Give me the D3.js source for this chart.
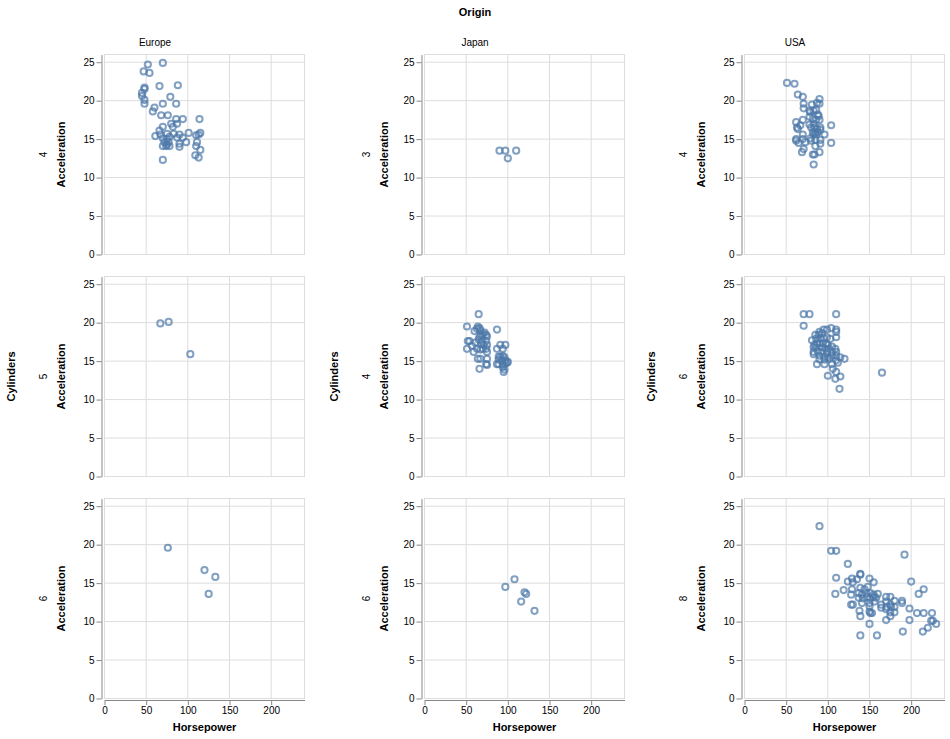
<!DOCTYPE html>
<html>
<head>
<meta charset="utf-8">
<script src="https://cdn.jsdelivr.net/npm/d3@7"></script>
<style>
  body { margin: 0; background: #fff; }
  svg { font-family: "Liberation Sans", Arial, Helvetica, sans-serif; }
</style>
</head>
<body>
<svg id="chart" width="950" height="739"></svg>
<script>
// ---------- data ----------
const origins = ["Europe", "Japan", "USA"];
const europeCylinders = [4, 5, 6];
const japanCylinders = [3, 4, 6];
const usaCylinders = [4, 6, 8];
const xTicks = [0, 50, 100, 150, 200];
const yTicks = [0, 5, 10, 15, 20, 25];

// [Horsepower, Acceleration]
const europe4 = [[52,24.7],[70,24.9],[47,23.8],[54,23.6],[66,21.9],[88,22.0],[48,21.7],[48,21.5],[45,21.0],[45,20.6],[48,20.1],[48,19.6],[79,20.5],[70,19.6],[86,19.6],[60,19.1],[58,18.6],[68,18.1],[76,18.1],[86,17.6],[94,17.6],[114,17.6],[80,17.0],[87,17.0],[70,16.6],[82,16.6],[66,16.1],[61,15.4],[67,15.6],[75,15.7],[83,15.7],[90,15.6],[101,15.8],[110,15.5],[115,15.8],[113,15.6],[94,15.2],[70,15.1],[75,15.0],[78,15.3],[87,15.2],[72,14.6],[77,14.6],[90,14.4],[98,14.6],[111,14.6],[70,14.1],[74,14.1],[78,14.1],[90,14.0],[75,14.3],[110,14.1],[115,13.6],[109,12.9],[113,12.6],[70,12.3]];
const europe5 = [[67,19.9],[77,20.1],[103,15.9]];
const europe6 = [[76,19.6],[120,16.7],[133,15.8],[125,13.6]];

const japan3 = [[90,13.5],[97,13.5],[110,13.5],[100,12.5]];
const japan4 = [[51,19.5],[65,21.1],[87,19.1],[60,18.9],[63,19.2],[66,19.3],[67,19.0],[64,19.5],[52,17.6],[54,17.6],[51,16.6],[57,17.0],[59,16.2],[61,17.4],[65,17.8],[66,18.2],[68,18.3],[70,18.5],[72,18.7],[74,18.4],[75,18.2],[68,17.3],[69,17.6],[71,17.1],[74,17.6],[75,17.1],[63,16.6],[67,16.5],[70,16.6],[74,16.6],[75,16.2],[64,15.3],[67,15.3],[75,15.3],[74,14.6],[75,14.5],[66,14.0],[87,16.6],[91,17.1],[97,17.1],[94,16.6],[89,15.6],[91,15.6],[94,15.7],[96,15.5],[89,15.2],[93,15.1],[97,15.1],[100,14.9],[87,14.6],[89,14.6],[94,14.6],[97,14.7],[99,14.8],[94,14.2],[96,13.9],[95,13.6]];
const japan6 = [[97,14.5],[108,15.5],[120,13.8],[122,13.6],[116,12.6],[132,11.4]];

const usa4 = [[51,22.3],[60,22.2],[64,20.8],[70,20.5],[90,20.2],[90,19.6],[87,19.7],[71,19.6],[71,19.0],[81,19.5],[78,18.7],[79,18.5],[83,18.7],[86,18.8],[88,18.2],[89,18.0],[90,17.5],[78,17.9],[82,17.6],[86,17.5],[62,17.2],[70,17.5],[67,16.8],[63,16.5],[64,16.3],[78,16.9],[83,17.0],[80,16.5],[84,16.5],[87,16.3],[91,16.5],[91,16.2],[104,16.8],[82,15.9],[85,15.9],[88,15.9],[83,15.6],[86,15.6],[96,15.6],[70,15.6],[62,15.0],[62,14.8],[70,15.0],[73,14.6],[65,14.5],[79,15.1],[80,14.8],[85,14.9],[91,14.9],[91,14.4],[104,14.5],[85,14.1],[71,13.7],[69,13.3],[82,13.0],[84,13.0],[90,13.3],[83,11.7]];
const usa6 = [[71,21.1],[78,21.1],[110,21.1],[71,19.6],[95,19.1],[99,19.1],[104,19.3],[110,19.1],[110,18.8],[90,18.8],[93,18.6],[89,18.4],[85,18.4],[81,17.7],[86,17.9],[91,17.9],[95,18.0],[99,18.1],[103,17.9],[110,18.1],[84,17.1],[87,17.3],[90,17.3],[94,17.3],[98,17.2],[100,17.1],[83,16.8],[86,16.8],[93,16.8],[97,16.6],[101,16.6],[105,16.9],[109,16.6],[83,16.2],[88,16.2],[93,16.2],[99,16.1],[105,16.2],[110,16.2],[83,15.9],[90,15.7],[96,15.6],[100,15.5],[105,15.7],[110,15.7],[90,15.2],[96,15.2],[102,15.3],[110,15.1],[115,15.5],[120,15.3],[87,14.6],[96,14.6],[105,14.6],[112,14.8],[106,14.0],[110,13.6],[100,13.1],[109,12.7],[115,13.0],[114,11.4],[165,13.5]];
const usa8 = [[90,22.4],[104,19.2],[110,19.2],[192,18.7],[124,17.5],[110,15.7],[124,15.2],[129,15.6],[130,15.1],[139,16.2],[139,16.1],[135,15.5],[150,15.6],[155,15.1],[200,15.2],[215,14.2],[119,14.1],[109,13.6],[129,14.2],[128,13.5],[139,14.4],[144,14.2],[148,14.5],[137,13.7],[141,13.5],[146,13.7],[151,13.7],[155,13.5],[160,13.6],[209,13.6],[137,13.1],[142,13.0],[147,13.2],[151,13.0],[155,13.2],[158,13.1],[128,12.2],[130,12.2],[141,12.4],[150,12.4],[156,12.6],[164,11.8],[164,12.2],[170,12.6],[175,12.2],[180,12.7],[189,12.7],[189,12.4],[170,13.2],[175,13.2],[150,12.0],[150,11.3],[151,11.1],[153,11.1],[138,11.4],[171,11.9],[176,11.9],[180,11.9],[170,11.6],[175,11.2],[180,11.2],[175,10.7],[198,11.7],[207,11.1],[215,11.1],[225,11.1],[139,10.7],[170,10.2],[198,10.2],[224,10.1],[226,10.1],[150,9.7],[230,9.7],[220,9.2],[214,8.7],[190,8.7],[139,8.2],[159,8.2]];

const panelData = {
  Europe: { rows: europeCylinders, data: [europe4, europe5, europe6] },
  Japan:  { rows: japanCylinders,  data: [japan3, japan4, japan6] },
  USA:    { rows: usaCylinders,    data: [usa4, usa6, usa8] }
};

// ---------- layout ----------
const colLeft = [104.5, 424.5, 744.5];
const rowTop = [54.5, 276.5, 498.5];
const plotW = 200, plotH = 200;
const headerShift = [0, 3, 0];

const svg = d3.select("#chart");
const x = d3.scaleLinear().domain([0, 240]).range([0, plotW]);
const y = d3.scaleLinear().domain([0, 26]).range([plotH, 0]);

const gridColor = "#ddd", axisColor = "#888";

svg.append("text")
  .attr("x", 475).attr("y", 15.5)
  .attr("text-anchor", "middle")
  .style("font-size", "11px").style("font-weight", "bold")
  .text("Origin");

origins.forEach((origin, ci) => {
  const left = colLeft[ci];
  const pd = panelData[origin];

  // column header
  svg.append("text")
    .attr("x", left + 50.5).attr("y", 46)
    .attr("text-anchor", "middle")
    .style("font-size", "10px")
    .text(origin);

  // row-header title "Cylinders"
  const midY = (rowTop[0] + rowTop[2] + plotH) / 2;
  svg.append("text")
    .attr("transform", `translate(${left - 93.5 + headerShift[ci]},${midY}) rotate(-90)`)
    .attr("text-anchor", "middle").attr("dy", "0.35em")
    .style("font-size", "11px").style("font-weight", "bold")
    .text("Cylinders");

  pd.rows.forEach((cyl, ri) => {
    const top = rowTop[ri];
    const g = svg.append("g").attr("transform", `translate(${left},${top})`);

    // row label
    svg.append("text")
      .attr("transform", `translate(${left - 61 + headerShift[ci]},${top + plotH / 2}) rotate(-90)`)
      .attr("text-anchor", "middle").attr("dy", "0.35em")
      .style("font-size", "10px")
      .text(cyl);

    // y axis title
    svg.append("text")
      .attr("transform", `translate(${left - 43.5 + headerShift[ci]},${top + plotH / 2}) rotate(-90)`)
      .attr("text-anchor", "middle").attr("dy", "0.35em")
      .style("font-size", "11px").style("font-weight", "bold")
      .text("Acceleration");

    // grid
    g.append("g").selectAll("line.gx").data(xTicks).join("line")
      .attr("x1", d => x(d)).attr("x2", d => x(d))
      .attr("y1", 0).attr("y2", plotH)
      .attr("stroke", gridColor).attr("stroke-width", 1);
    g.append("g").selectAll("line.gy").data(yTicks).join("line")
      .attr("x1", 0).attr("x2", plotW)
      .attr("y1", d => y(d)).attr("y2", d => y(d))
      .attr("stroke", gridColor).attr("stroke-width", 1);
    g.append("rect")
      .attr("x", 0).attr("y", 0).attr("width", plotW).attr("height", plotH)
      .attr("fill", "none").attr("stroke", gridColor);

    // y axis
    const ya = g.append("g").attr("transform", "translate(-3,0)")
      .call(d3.axisLeft(y).tickValues(yTicks).tickSize(5).tickSizeOuter(0).tickPadding(2));
    ya.select(".domain").attr("stroke", axisColor);
    ya.selectAll(".tick line").attr("stroke", axisColor);
    ya.selectAll(".tick text").attr("fill", "#000")
      .style("font-size", "10px").style("font-family", "Liberation Sans, Arial, sans-serif");

    // x axis on bottom row
    if (ri === 2) {
      const xa = g.append("g").attr("transform", `translate(0,${plotH + 1.5})`)
        .call(d3.axisBottom(x).tickValues(xTicks).tickSize(5).tickSizeOuter(0).tickPadding(2));
      xa.select(".domain").attr("stroke", axisColor);
      xa.selectAll(".tick line").attr("stroke", axisColor);
      xa.selectAll(".tick text").attr("fill", "#000")
        .style("font-size", "10px").style("font-family", "Liberation Sans, Arial, sans-serif");
      svg.append("text")
        .attr("x", left + plotW / 2).attr("y", 730.5)
        .attr("text-anchor", "middle")
        .style("font-size", "11px").style("font-weight", "bold")
        .text("Horsepower");
    }

    // points
    g.append("g").selectAll("circle").data(pd.data[ri]).join("circle")
      .attr("cx", d => x(d[0])).attr("cy", d => y(d[1]))
      .attr("r", 3.1)
      .attr("fill", "none")
      .attr("stroke", "#4c78a8")
      .attr("stroke-width", 2)
      .attr("opacity", 0.7);
  });
});
</script>
</body>
</html>
